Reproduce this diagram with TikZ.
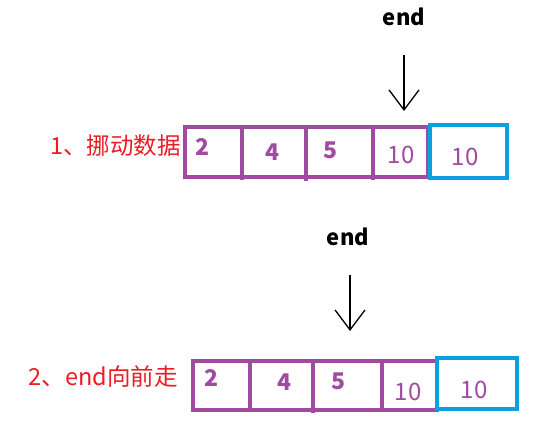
\documentclass[tikz,border=0pt]{standalone}
\usepackage{fontspec}
\setmainfont{Noto Sans CJK SC}
\usetikzlibrary{arrows.meta}
\definecolor{cellpurple}{RGB}{160,75,160}
\definecolor{cellblue}{RGB}{10,160,225}
\definecolor{labelred}{RGB}{237,28,36}
\tikzset{
  cellbox/.style={draw=cellpurple, line width=4pt},
  bluebox/.style={draw=cellblue, line width=4pt},
  num/.style={text=cellpurple, font=\fontsize{24}{26}\selectfont, inner sep=0pt},
  bnum/.style={num, font=\fontsize{23}{26}\selectfont\bfseries},
  lab/.style={text=labelred, font=\fontsize{23.5}{26}\selectfont, inner sep=0pt, anchor=east},
  endlab/.style={font=\fontsize{22}{24}\selectfont\bfseries, inner sep=0pt},
  ptr/.style={line width=1.3pt, -{Straight Barb[length=20pt,width=30pt,line width=1.3pt]}}
}
\begin{document}
\begin{tikzpicture}[x=1pt,y=-1pt]
\useasboundingbox[fill=white] (0,0) rectangle (554,442);
% row 1
\draw[cellbox] (185,127) rectangle (428,177);
\draw[cellbox] (242,127) -- (242,180);
\draw[cellbox] (306,127) -- (306,181);
\draw[cellbox] (373,127) -- (373,180);
\draw[bluebox] (430,125) rectangle (507,178);
\node[bnum] (a1) at (203,147) {2};
\node[bnum] (a2) at (273,152) {4};
\node[bnum] (a3) at (330,150) {5};
\node[num] (a4) at (401,155) {10};
\node[num] (a5) at (465,157) {10};
\node[lab] (l1) at (181,146) {1、挪动数据};
\node[endlab] (e1) at (404,17) {end};
\coordinate (e1s) at (404,55);
\coordinate (e1t) at (404,111);
\draw[ptr] (e1s) -- (e1t);
% row 2
\draw[cellbox] (193,361) rectangle (437,410);
\draw[cellbox] (250,361) -- (250,412);
\draw[cellbox] (313,361) -- (313,413);
\draw[cellbox] (382,361) -- (382,412);
\draw[bluebox] (437,358) rectangle (517,409);
\node[bnum] (b1) at (212,378) {2};
\node[bnum] (b2) at (284,382) {4};
\node[bnum] (b3) at (338,381) {5};
\node[num] (b4) at (408,392) {10};
\node[num] (b5) at (474,390) {10};
\node[lab] (l2) at (178,377) {2、end向前走};
\node[endlab] (e2) at (348,237) {end};
\coordinate (e2s) at (350,275);
\coordinate (e2t) at (350,331);
\draw[ptr] (e2s) -- (e2t);
\end{tikzpicture}
\end{document}
